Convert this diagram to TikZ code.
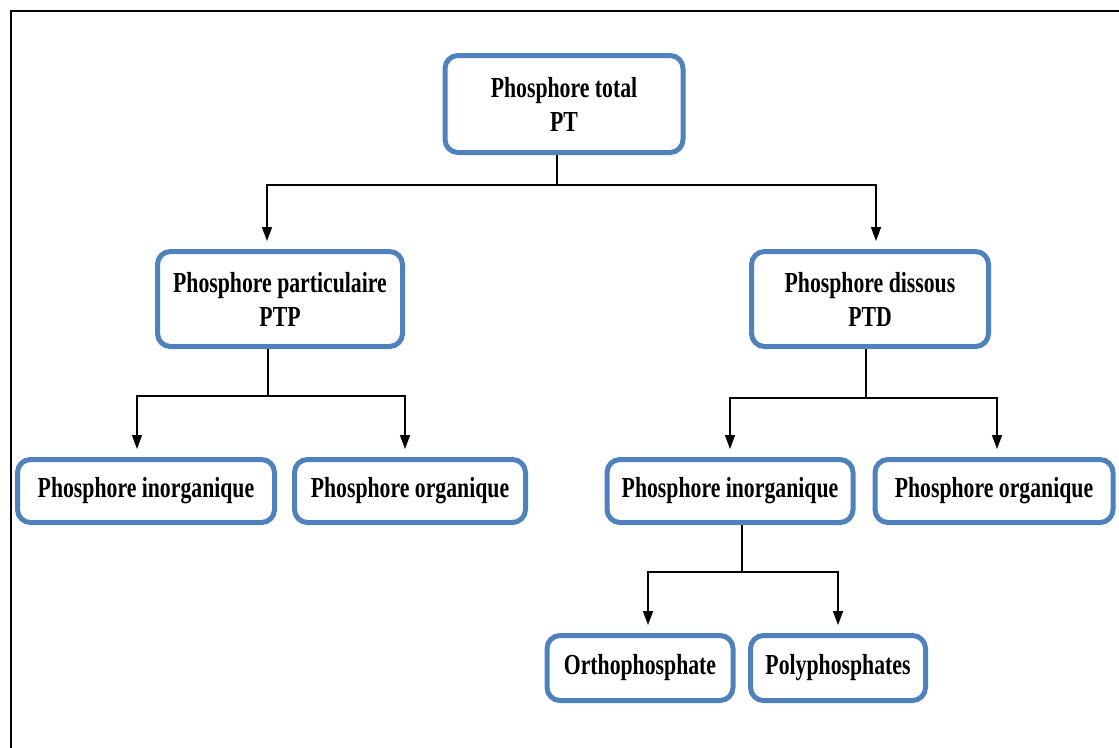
\documentclass[tikz,border=0pt]{standalone}
\usepackage{fontspec}
\newfontfamily\boxfont{Liberation Serif}[FakeStretch=0.75]
\usetikzlibrary{arrows.meta}
\definecolor{boxblue}{RGB}{79,129,189}
\begin{document}
\begin{tikzpicture}[x=1pt,y=-1pt,
  box/.style={draw=boxblue,line width=5pt,rounded corners=13pt,fill=white,
    align=center,inner sep=0pt,
    font=\boxfont\bfseries\fontsize{29}{34}\selectfont},
  link/.style={line width=1.5pt,black},
  arr/.style={link,-{Triangle[width=10pt,length=14pt]},shorten >=8pt}]
  \useasboundingbox (0,0) rectangle (1119,747);
  % outer frame (runs off the page on the right and bottom)
  \draw[line width=2pt] (11,760) -- (11,11) -- (1130,11);
  % boxes
  \node[box,minimum width=238pt,minimum height=97pt] (pt)  at (564,104) {Phosphore total\\PT};
  \node[box,minimum width=245pt,minimum height=95pt] (ptp) at (280,299) {Phosphore particulaire\\PTP};
  \node[box,minimum width=237pt,minimum height=95pt] (ptd) at (870,299) {Phosphore dissous\\PTD};
  \node[box,minimum width=257pt,minimum height=63pt] (pil) at (146,491) {Phosphore inorganique};
  \node[box,minimum width=231pt,minimum height=63pt] (pol) at (410,491) {Phosphore organique};
  \node[box,minimum width=246pt,minimum height=63pt] (pir) at (730,491) {Phosphore inorganique};
  \node[box,minimum width=238pt,minimum height=63pt] (por) at (994,491) {Phosphore organique};
  \node[box,minimum width=186pt,minimum height=65pt] (ortho) at (640,668) {Orthophosphate};
  \node[box,minimum width=175pt,minimum height=65pt] (poly)  at (838,668) {Polyphosphates};
  % branch points
  \coordinate (b1) at (557,185);
  \coordinate (b2) at (268,396);
  \coordinate (b3) at (866,398);
  \coordinate (b4) at (742,572);
  % connectors
  \draw[link] (pt.south -| b1) -- (b1);
  \draw[arr] (b1) -| (267,0 |- ptp.north);
  \draw[arr] (b1) -| (876,0 |- ptd.north);
  \draw[link] (ptp.south -| b2) -- (b2);
  \draw[arr] (b2) -| (137,0 |- pil.north);
  \draw[arr] (b2) -| (405,0 |- pol.north);
  \draw[link] (ptd.south -| b3) -- (b3);
  \draw[arr] (b3) -| (730,0 |- pir.north);
  \draw[arr] (b3) -| (997,0 |- por.north);
  \draw[link] (pir.south -| b4) -- (b4);
  \draw[arr] (b4) -| (648,0 |- ortho.north);
  \draw[arr] (b4) -| (838,0 |- poly.north);
\end{tikzpicture}
\end{document}
